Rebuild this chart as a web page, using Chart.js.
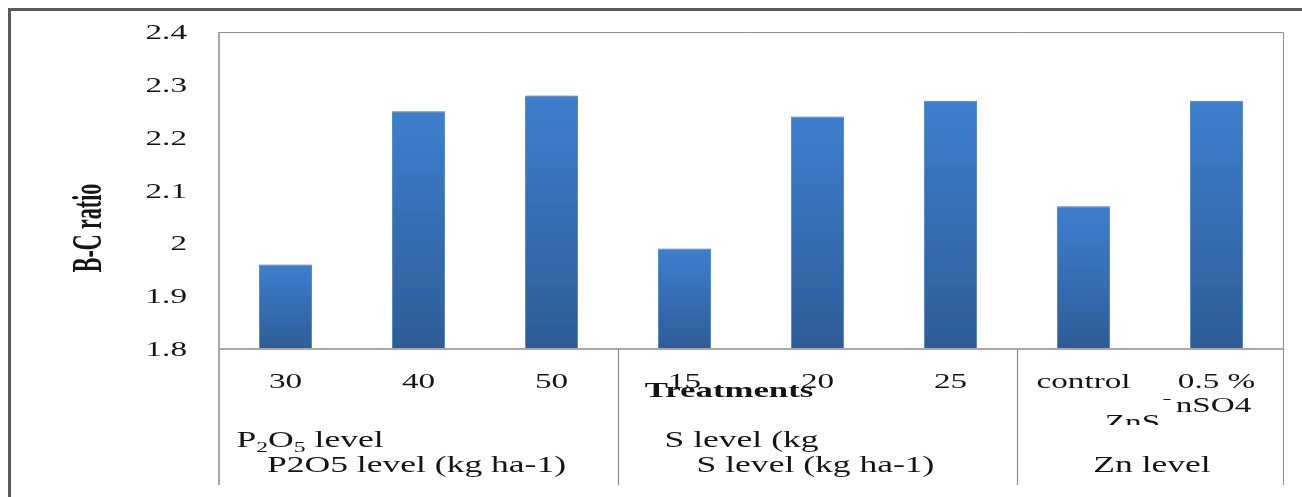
<!DOCTYPE html>
<html>
<head>
<meta charset="utf-8">
<title>B-C ratio by treatment</title>
<script src="https://cdn.jsdelivr.net/npm/chart.js@4.4.1/dist/chart.umd.min.js"></script>
<style>
  html, body { margin: 0; padding: 0; background: #ffffff; }
  #wrap { width: 1302px; height: 497px; }
</style>
</head>
<body>
<div id="wrap"><canvas id="c" width="1302" height="497"></canvas></div>
<script>
// Treatment levels (x categories) and their B-C ratios
const categories = ['30', '40', '50', '15', '20', '25', 'control', '0.5 % ZnSO4'];
const bcRatio = [1.96, 2.25, 2.28, 1.99, 2.24, 2.27, 2.07, 2.27];

// Y axis range
const yMin = 1.8;
const yMax = 2.4;
const yStep = 0.1;

// Treatment groups: first/last category index of each group
const groupStart = [0, 3, 6];
const groupEnd = [2, 5, 7];

const axisTitle = 'B-C ratio';
const xTitle = 'Treatments';

const SERIF = '"Liberation Serif", "DejaVu Serif", serif';
const SX = 1.58;           // horizontal stretch of the lettering
const INK = '#141414';

function stretchedText(ctx, str, x, y, size, align, bold, sx) {
  const k = sx || SX;
  ctx.save();
  ctx.font = (bold ? 'bold ' : '') + size + 'px ' + SERIF;
  const w = ctx.measureText(str).width * k;
  let left = x;
  if (align === 'center') left = x - w / 2;
  else if (align === 'right') left = x - w;
  ctx.translate(left, y);
  ctx.scale(k, 1);
  ctx.textAlign = 'left';
  ctx.textBaseline = 'alphabetic';
  ctx.fillStyle = INK;
  ctx.fillText(str, 0, 0);
  ctx.restore();
  return w;
}

// Runs of text with optional subscripts, e.g. P2O5
function richText(ctx, runs, x, y, size) {
  let cx = x;
  runs.forEach(r => {
    const s = r.sub ? Math.round(size * 0.66) : size;
    const dy = r.sub ? size * 0.22 : 0;
    cx += stretchedText(ctx, r.t, cx, y + dy, s, 'left', false);
  });
}

const frame = {
  id: 'frame',
  beforeDatasetsDraw(chart) {
    const ctx = chart.ctx;
    ctx.save();
    ctx.shadowColor = 'rgba(0,0,0,0.28)';
    ctx.shadowBlur = 5;
    ctx.shadowOffsetX = 0;
    ctx.shadowOffsetY = 0;
  },
  afterDatasetsDraw(chart) {
    chart.ctx.restore();
  },
  afterDraw(chart) {
    const ctx = chart.ctx;
    const a = chart.chartArea;
    const xs = chart.scales.x;
    const ys = chart.scales.y;
    const bottomLine = 485;

    ctx.save();
    // outer frame (left and top)
    ctx.strokeStyle = '#5a5a5a';
    ctx.lineWidth = 3;
    ctx.beginPath();
    ctx.moveTo(9.5, 497);
    ctx.lineTo(9.5, 9.5);
    ctx.lineTo(1302, 9.5);
    ctx.stroke();

    // plot border top / right
    ctx.strokeStyle = '#8c8c8c';
    ctx.lineWidth = 1;
    ctx.beginPath();
    ctx.moveTo(a.left, a.top + 0.5);
    ctx.lineTo(a.right + 0.5, a.top + 0.5);
    ctx.lineTo(a.right + 0.5, bottomLine);
    ctx.stroke();

    // left axis line
    ctx.strokeStyle = '#8a8a8a';
    ctx.lineWidth = 1.5;
    ctx.beginPath();
    ctx.moveTo(a.left, a.top);
    ctx.lineTo(a.left, bottomLine);
    ctx.stroke();

    // category axis line
    ctx.strokeStyle = '#a8a8a8';
    ctx.lineWidth = 2;
    ctx.beginPath();
    ctx.moveTo(a.left, a.bottom);
    ctx.lineTo(a.right, a.bottom);
    ctx.stroke();

    // group dividers
    ctx.strokeStyle = '#8a8a8a';
    ctx.lineWidth = 1.2;
    for (let g = 0; g < groupEnd.length - 1; g++) {
      const xd = Math.round((xs.getPixelForValue(groupEnd[g]) + xs.getPixelForValue(groupStart[g + 1])) / 2) + 0.5;
      ctx.beginPath();
      ctx.moveTo(xd, a.bottom);
      ctx.lineTo(xd, bottomLine);
      ctx.stroke();
    }
    ctx.restore();

    // y tick labels
    ys.ticks.forEach(t => {
      const yp = ys.getPixelForValue(t.value);
      const lbl = String(Number(t.value.toFixed(1)));
      stretchedText(ctx, lbl, 187, yp + 7, 21, 'right', false);
    });

    // y axis title
    ctx.save();
    ctx.translate(101, 228);
    ctx.scale(1.95, 1);
    ctx.rotate(-Math.PI / 2);
    ctx.font = 'bold 22px ' + SERIF;
    ctx.textAlign = 'center';
    ctx.textBaseline = 'alphabetic';
    ctx.fillStyle = INK;
    ctx.fillText(axisTitle, 0, 0);
    ctx.restore();

    // category labels
    const ly = 388;
    categories.forEach((c, i) => {
      const xp = xs.getPixelForValue(i);
      if (i === 7) {
        stretchedText(ctx, '0.5 %', xp, ly, 21, 'center', false);
        stretchedText(ctx, 'nSO4', xp - 3, 412, 21, 'center', false);
        ctx.save();
        ctx.strokeStyle = INK;
        ctx.lineWidth = 1;
        ctx.beginPath();
        ctx.moveTo(xp - 53, 399.5);
        ctx.lineTo(xp - 46, 399.5);
        ctx.stroke();
        ctx.beginPath();
        ctx.rect(xp - 130, 405, 90, 20);
        ctx.clip();
        stretchedText(ctx, 'ZnS', xp - 84, 429, 21, 'center', false);
        ctx.restore();
      } else {
        stretchedText(ctx, c, xp, ly, 21, 'center', false);
      }
    });

    // group labels
    const GS = 22.5;
    const g0 = xs.getPixelForValue(groupStart[0]);
    richText(ctx, [{t: 'P'}, {t: '2', sub: true}, {t: 'O'}, {t: '5', sub: true}, {t: ' level'}], g0 - 49, 447, GS);
    stretchedText(ctx, 'P2O5 level (kg ha-1)', g0 + 131, 472, GS, 'center', false);

    const g1 = xs.getPixelForValue(groupStart[1]);
    stretchedText(ctx, 'S level (kg', g1 - 20, 447, GS, 'left', false);
    stretchedText(ctx, 'S level (kg ha-1)', g1 + 131, 472, GS, 'center', false);

    const g2a = xs.getPixelForValue(groupStart[2]);
    const g2b = xs.getPixelForValue(groupEnd[2]);
    stretchedText(ctx, 'Zn level', (g2a + g2b) / 2 + 2, 472, GS, 'center', false);

    // x axis title, laid over the middle group
    stretchedText(ctx, xTitle, 729, 397, 22, 'center', true);
  }
};

const ctx = document.getElementById('c').getContext('2d');

new Chart(ctx, {
  type: 'bar',
  data: {
    labels: categories,
    datasets: [{
      label: 'B-C ratio',
      data: bcRatio,
      backgroundColor(context) {
        const chart = context.chart;
        const ys = chart.scales.y;
        if (!ys || context.raw === undefined) return '#3a78c6';
        const top = ys.getPixelForValue(context.raw);
        const base = ys.getPixelForValue(yMin);
        if (!isFinite(top) || !isFinite(base) || base <= top) return '#3a78c6';
        const g = chart.ctx.createLinearGradient(0, top, 0, base);
        g.addColorStop(0, '#3d7fce');
        g.addColorStop(1, '#2e5c97');
        return g;
      },
      borderColor: '#5a92d6',
      borderWidth: 1,
      borderSkipped: 'bottom',
      barPercentage: 0.4,
      categoryPercentage: 1.0
    }]
  },
  options: {
    responsive: false,
    animation: false,
    devicePixelRatio: 1,
    layout: { padding: { left: 10, top: 32, right: 19, bottom: 0 } },
    plugins: {
      legend: { display: false },
      tooltip: { enabled: false },
      title: { display: false }
    },
    scales: {
      x: {
        grid: { display: false },
        border: { display: false },
        ticks: { display: false },
        afterFit(s) { s.height = 148; }
      },
      y: {
        min: yMin,
        max: yMax,
        ticks: { display: false, stepSize: yStep },
        grid: { display: false },
        border: { display: false },
        afterFit(s) { s.width = 209; }
      }
    }
  },
  plugins: [frame]
});
</script>
</body>
</html>
